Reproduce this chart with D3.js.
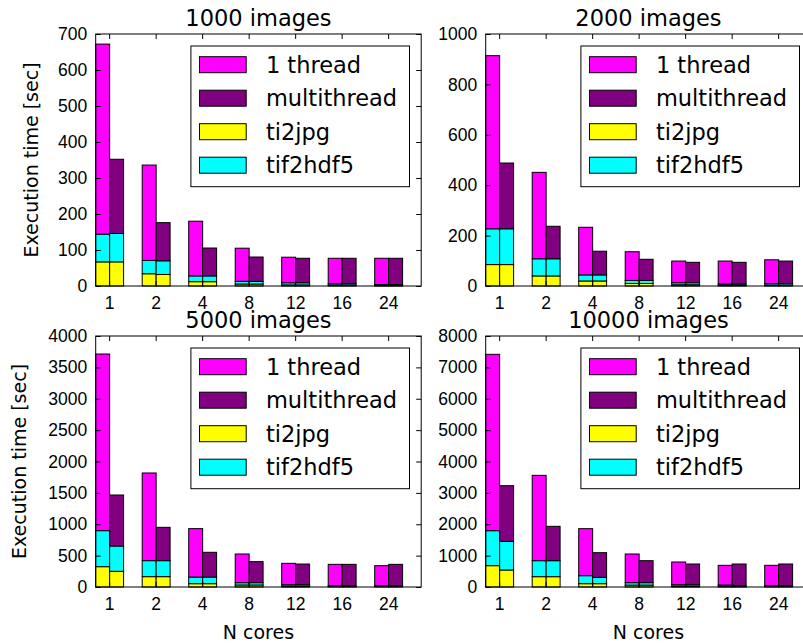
<!DOCTYPE html>
<html>
<head>
<meta charset="utf-8">
<script src="https://cdn.jsdelivr.net/npm/d3@7"></script>
<style>
  body { margin: 0; background: #fff; }
  svg { display: block; font-family: "DejaVu Sans", sans-serif; }
</style>
</head>
<body>
<div id="chart"></div>
<script>
// Categories (N cores)
const cores = ["1", "2", "4", "8", "12", "16", "24"];
const series = ["1 thread", "multithread", "ti2jpg", "tif2hdf5"];

// 1000 images: ti2jpg / tif2hdf5 / compute part, for 1 thread and multithread bars
const jpg1_1000 = [67, 34, 12, 5.5, 3, 2, 1];
const hdf1_1000 = [77, 37, 16, 7.5, 6, 4, 3];
const run1_1000 = [528, 265, 152, 92, 71, 71, 73];
const jpgM_1000 = [67, 32, 12, 5.5, 3, 2, 1];
const hdfM_1000 = [79, 38, 16, 7.5, 6, 4, 3];
const runM_1000 = [206, 106, 77.5, 67.5, 68, 71, 73];

// 2000 images
const jpg1_2000 = [85, 40, 20, 10, 5, 3, 3];
const hdf1_2000 = [142, 68, 24, 12, 8, 5, 6];
const run1_2000 = [687, 343, 189, 114, 86, 91, 95];
const jpgM_2000 = [85, 40, 20, 10, 5, 3, 3];
const hdfM_2000 = [142, 68, 24, 12, 8, 5, 6];
const runM_2000 = [261, 129, 94, 84, 81, 86, 90];

// 5000 images
const jpg1_5000 = [324, 165, 53, 32, 15, 8, 8];
const hdf1_5000 = [574, 255, 106, 37, 22, 13, 12];
const run1_5000 = [2815, 1397, 771, 457, 340, 340, 320];
const jpgM_5000 = [250, 165, 53, 32, 15, 8, 8];
const hdfM_5000 = [403, 255, 106, 37, 22, 13, 12];
const runM_5000 = [813, 531, 394, 335, 329, 340, 341];

// 10000 images
const jpg1_10000 = [680, 329, 106, 60, 30, 25, 15];
const hdf1_10000 = [1115, 510, 255, 78, 44, 39, 25];
const run1_10000 = [5621, 2720, 1498, 914, 723, 627, 651];
const jpgM_10000 = [542, 329, 106, 60, 30, 15, 15];
const hdfM_10000 = [914, 510, 202, 78, 44, 25, 25];
const runM_10000 = [1773, 1095, 786, 701, 659, 693, 693];

// y tick values per panel
const ticks1000 = [0, 100, 200, 300, 400, 500, 600, 700];
const ticks2000 = [0, 200, 400, 600, 800, 1000];
const ticks5000 = [0, 500, 1000, 1500, 2000, 2500, 3000, 3500, 4000];
const ticks10000 = [0, 1000, 2000, 3000, 4000, 5000, 6000, 7000, 8000];

const colors = {"1 thread": "#ff00ff", "multithread": "#800080", "ti2jpg": "#ffff00", "tif2hdf5": "#00ffff"};

const panels = [
    {title: "1000 images", ticks: ticks1000, x: 95.7, y: 34, ylab: 38, xlab: false,
     d: {jpg1: jpg1_1000, hdf1: hdf1_1000, run1: run1_1000, jpgM: jpgM_1000, hdfM: hdfM_1000, runM: runM_1000}},
    {title: "2000 images", ticks: ticks2000, x: 485.7, y: 34, ylab: null, xlab: false,
     d: {jpg1: jpg1_2000, hdf1: hdf1_2000, run1: run1_2000, jpgM: jpgM_2000, hdfM: hdfM_2000, runM: runM_2000}},
    {title: "5000 images", ticks: ticks5000, x: 95.7, y: 336, ylab: 26, xlab: true,
     d: {jpg1: jpg1_5000, hdf1: hdf1_5000, run1: run1_5000, jpgM: jpgM_5000, hdfM: hdfM_5000, runM: runM_5000}},
    {title: "10000 images", ticks: ticks10000, x: 485.7, y: 336, ylab: null, xlab: true,
     d: {jpg1: jpg1_10000, hdf1: hdf1_10000, run1: run1_10000, jpgM: jpgM_10000, hdfM: hdfM_10000, runM: runM_10000}}
];

const W = 325.5, H = [252, 251];

const svg = d3.select("#chart").append("svg")
    .attr("width", 803)
    .attr("height", 644);

panels.forEach((p, pi) => {
    const h = p.y < 100 ? H[0] : H[1];
    const g = svg.append("g").attr("transform", `translate(${p.x},${p.y})`);

    const x = d3.scaleBand().domain(cores).range([0, W])
        .paddingInner(0.4).paddingOuter(0.2).align(0);
    const xs = d3.scaleBand().domain(["1", "M"]).range([0, x.bandwidth()]);
    const y = d3.scaleLinear().domain([0, d3.max(p.ticks)]).range([h, 0]);

    // build stacked rows
    const rows = [];
    cores.forEach((c, i) => {
        const a = p.d.jpg1[i], b = p.d.hdf1[i], r = p.d.run1[i];
        rows.push({c, s: "1", key: "ti2jpg", y0: 0, y1: a});
        rows.push({c, s: "1", key: "tif2hdf5", y0: a, y1: a + b});
        rows.push({c, s: "1", key: "1 thread", y0: a + b, y1: a + b + r});
        const a2 = p.d.jpgM[i], b2 = p.d.hdfM[i], r2 = p.d.runM[i];
        rows.push({c, s: "M", key: "ti2jpg", y0: 0, y1: a2});
        rows.push({c, s: "M", key: "tif2hdf5", y0: a2, y1: a2 + b2});
        rows.push({c, s: "M", key: "multithread", y0: a2 + b2, y1: a2 + b2 + r2});
    });

    g.selectAll(".bar")
        .data(rows)
        .enter()
        .append("rect")
            .attr("class", "bar")
            .attr("x", d => x(d.c) + xs(d.s))
            .attr("width", xs.bandwidth())
            .attr("y", d => y(d.y1))
            .attr("height", d => y(d.y0) - y(d.y1))
            .attr("fill", d => colors[d.key])
            .attr("stroke", "#000")
            .attr("stroke-width", 1);

    // axes (ticks inward on all four sides)
    const fs = "17.5px";
    const xb = g.append("g").attr("transform", `translate(0,${h})`)
        .call(d3.axisBottom(x).tickSizeInner(-5).tickSizeOuter(0).tickPadding(10.6));
    xb.selectAll("text").style("font-size", fs).attr("fill", "#000");
    g.append("g")
        .call(d3.axisTop(x).tickSizeInner(-5).tickSizeOuter(0).tickFormat(""));
    const yl = g.append("g")
        .call(d3.axisLeft(y).tickValues(p.ticks).tickFormat(d3.format("d"))
            .tickSizeInner(-5).tickSizeOuter(0).tickPadding(8.4));
    yl.selectAll("text").style("font-size", fs).attr("fill", "#000");
    g.append("g").attr("transform", `translate(${W},0)`)
        .call(d3.axisRight(y).tickValues(p.ticks).tickSizeInner(-5).tickSizeOuter(0).tickFormat(""));
    g.selectAll(".domain").remove();
    g.selectAll(".tick line").attr("stroke", "#000");

    // frame
    g.append("rect")
        .attr("width", W).attr("height", h)
        .attr("fill", "none").attr("stroke", "#000").attr("stroke-width", 1);

    // title
    g.append("text")
        .attr("x", W / 2).attr("y", -8)
        .attr("text-anchor", "middle")
        .style("font-size", "22.5px")
        .text(p.title);

    // legend
    const lw = 218.6, lh = 140.7;
    const lg = g.append("g").attr("transform", `translate(${W - 11.7 - lw},12)`);
    lg.append("rect").attr("width", lw).attr("height", lh)
        .attr("fill", "#fff").attr("stroke", "#000").attr("stroke-width", 1);
    series.forEach((s, i) => {
        const cy = 18.7 + i * 33.5;
        lg.append("rect")
            .attr("x", 8.6).attr("y", cy - 8)
            .attr("width", 46.7).attr("height", 16)
            .attr("fill", colors[s]).attr("stroke", "#000").attr("stroke-width", 1);
        lg.append("text")
            .attr("x", 75).attr("y", cy + 8)
            .style("font-size", "22.5px")
            .text(s);
    });

    // axis labels
    if (p.ylab !== null) {
        svg.append("text")
            .attr("transform", `translate(${p.ylab},${p.y + h / 2}) rotate(-90)`)
            .attr("text-anchor", "middle")
            .style("font-size", "19px")
            .text("Execution time [sec]");
    }
    if (p.xlab) {
        g.append("text")
            .attr("x", W / 2).attr("y", 639 - p.y)
            .attr("text-anchor", "middle")
            .style("font-size", "19px")
            .text("N cores");
    }
});
</script>
</body>
</html>
